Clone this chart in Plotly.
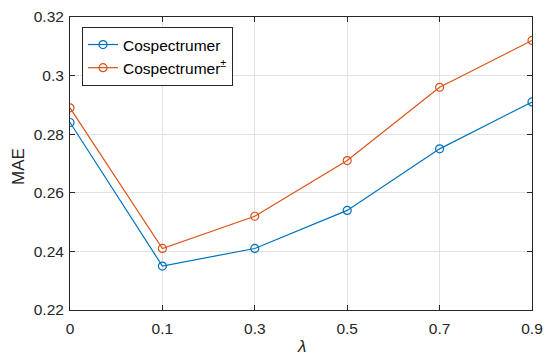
import plotly.graph_objects as go

lambdas = ["0", "0.1", "0.3", "0.5", "0.7", "0.9"]
cospec = [0.284, 0.235, 0.241, 0.254, 0.275, 0.291]
cospec_pm = [0.289, 0.241, 0.252, 0.271, 0.296, 0.312]
yticks = [0.22, 0.24, 0.26, 0.28, 0.3, 0.32]
ytick_text = ["0.22", "0.24", "0.26", "0.28", "0.3", "0.32"]

xpos = list(range(len(lambdas)))

fig = go.Figure()
fig.add_trace(go.Scatter(x=xpos, y=cospec, mode="lines+markers", name="Cospectrumer",
                         line=dict(color="#0072BD", width=1.2),
                         marker=dict(symbol="circle-open", size=8, color="#0072BD", line=dict(width=1.2))))
fig.add_trace(go.Scatter(x=xpos, y=cospec_pm, mode="lines+markers", name="Cospectrumer<sup>±</sup>",
                         line=dict(color="#D95319", width=1.2),
                         marker=dict(symbol="circle-open", size=8, color="#D95319", line=dict(width=1.2))))

axis_common = dict(showline=True, linecolor="#262626", linewidth=1, mirror="ticks",
                   ticks="inside", ticklen=5, tickcolor="#262626", automargin=False,
                   showgrid=True, gridcolor="#E3E3E3", gridwidth=1, zeroline=False,
                   tickfont=dict(family="Liberation Sans, Arial", size=15.5, color="#262626"))

fig.update_layout(
    width=544, height=356,
    margin=dict(l=70, r=12, t=17, b=46),
    paper_bgcolor="white", plot_bgcolor="white",
    font=dict(family="Liberation Sans, Arial", size=15.5, color="#262626"),
    xaxis=dict(range=[0, 5], tickvals=xpos, ticktext=lambdas, ticklabelstandoff=4, **axis_common),
    yaxis=dict(range=[0.22, 0.32], tickvals=yticks, ticktext=ytick_text, ticklabelstandoff=2, **axis_common),
    legend=dict(x=0.026, y=0.966, xanchor="left", yanchor="top",
                bgcolor="white", bordercolor="#262626", borderwidth=1,
                font=dict(size=15.5, color="black"), tracegroupgap=0, itemwidth=30),
    showlegend=True,
    annotations=[
        dict(text="MAE", xref="paper", yref="paper", x=-0.1115, y=0.49,
             xanchor="center", yanchor="middle", textangle=-90, showarrow=False,
             font=dict(size=17, color="#262626")),
        dict(text="<i>λ</i>", xref="paper", yref="paper", x=0.5, y=-0.124,
             xanchor="center", yanchor="middle", showarrow=False,
             font=dict(size=17, color="#262626")),
    ],
)

fig.write_html("out.html", config={"displayModeBar": False},
               post_script="document.body.style.margin='0';document.body.style.overflow='hidden';")
